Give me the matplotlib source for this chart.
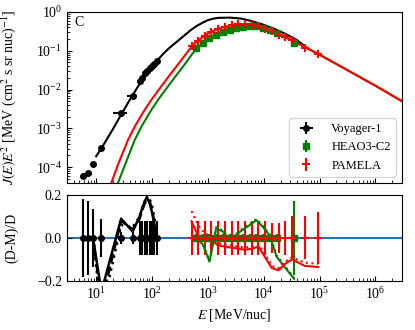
import numpy as np
import matplotlib
matplotlib.use("Agg")
import matplotlib.pyplot as plt

plt.rcParams['font.family'] = ['Liberation Serif', 'DejaVu Serif']
plt.rcParams['mathtext.fontset'] = 'stix'
plt.rcParams['font.size'] = 10

# --- data ---
# Voyager-1
vgr_E = [5.8, 7.1, 8.8, 12.4, 28, 45, 60, 67, 74, 81, 91, 100, 109, 123]
vgr_J = [5.9e-5, 6.9e-5, 1.17e-4, 3.1e-4, 2.5e-3, 7.0e-3, 0.0164, 0.020,
         0.026, 0.030, 0.037, 0.040, 0.046, 0.053]
vgr_Eerr = [0, 0, 0, 0, 8, 9, 0, 0, 0, 0, 0, 0, 0, 0]
vgr_rel = [0.18, 0.17, 0.135, 0.09, 0.03, 0.03, 0.08, 0.08, 0.08, 0.08,
           0.08, 0.08, 0.08, 0.08]

# HEAO3-C2
heao_E = [620, 810, 1070, 1410, 1860, 2450, 3240, 4270, 5620, 7410, 9770,
          12900, 17000, 35000]
heao_J = [0.120, 0.158, 0.209, 0.257, 0.302, 0.347, 0.389, 0.422, 0.437,
          0.432, 0.398, 0.339, 0.282, 0.158]
heao_rel = [0.02, 0.02, 0.02, 0.02, 0.02, 0.02, 0.02, 0.02, 0.02, 0.02,
            0.02, 0.02, 0.02, 0.17]

# PAMELA
pam_E = [510, 670, 880, 1160, 1530, 2020, 2670, 3520, 4630, 6110, 8050,
         10600, 14000, 18500, 24300, 32100, 55000, 94400]
pam_J = [0.135, 0.182, 0.240, 0.302, 0.363, 0.417, 0.457, 0.479, 0.490,
         0.468, 0.427, 0.372, 0.316, 0.263, 0.224, 0.186, 0.120, 0.083]
pam_rel = [0.08, 0.08, 0.08, 0.08, 0.08, 0.08, 0.08, 0.08, 0.08, 0.08,
           0.08, 0.08, 0.07, 0.07, 0.08, 0.10, 0.10, 0.12]

# model curves, log10(E) and log10(J E^2)
blk_logE = [1.0, 1.1, 1.2, 1.3, 1.45, 1.6, 1.8, 2.0, 2.1, 2.2, 2.3, 2.4, 2.5,
            2.6, 2.7, 2.8, 2.9, 3.0, 3.1, 3.2, 3.4, 3.6, 3.8, 4.0, 4.2, 4.4,
            4.6, 4.8]
blk_logJ = [-3.72, -3.50, -3.26, -3.02, -2.64, -2.27, -1.80, -1.40, -1.24,
            -1.08, -0.94, -0.82, -0.70, -0.58, -0.46, -0.36, -0.28, -0.21,
            -0.17, -0.15, -0.145, -0.17, -0.24, -0.33, -0.44, -0.57, -0.73,
            -0.95]
red_logE = [1.2, 1.27, 1.4, 1.57, 1.7, 1.87, 2.0, 2.17, 2.3, 2.466, 2.6, 2.706,
            2.8, 3.0, 3.2, 3.4, 3.6, 3.8, 4.0, 4.2, 4.4, 4.6, 4.8, 5.0, 5.5,
            6.0, 6.5]
red_logJ = [-4.7, -4.41, -3.9, -3.30, -2.93, -2.52, -2.24, -1.91, -1.66,
            -1.35, -1.10, -0.90, -0.76, -0.55, -0.42, -0.35, -0.32, -0.34,
            -0.42, -0.53, -0.66, -0.80, -0.95, -1.10, -1.50, -1.90, -2.32]
grn_logE = [1.32, 1.39, 1.5, 1.69, 1.82, 1.99, 2.12, 2.29, 2.42, 2.586, 2.72,
            2.85, 3.0, 3.2, 3.4, 3.6, 3.8, 4.0, 4.2, 4.4, 4.6, 4.8, 5.0, 5.5,
            6.0, 6.5]
grn_logJ = [-4.7, -4.41, -4.0, -3.30, -2.93, -2.52, -2.24, -1.91, -1.66,
            -1.35, -1.08, -0.88, -0.70, -0.53, -0.42, -0.36, -0.35, -0.42,
            -0.53, -0.66, -0.80, -0.95, -1.10, -1.50, -1.90, -2.32]

# residuals (D-M)/D, Voyager from 8.8 MeV on
vgr_res_E = vgr_E[2:]
vgr_res_solid = [0.0, -0.25, 0.09, 0.03, 0.10, 0.14, 0.17, 0.19, 0.16, 0.12,
                 0.07, 0.0]
vgr_res_dash = [0.0, -0.30, 0.08, 0.04, 0.09, 0.13, 0.16, 0.18, 0.17, 0.13,
                0.08, 0.01]
vgr_res_dot = [0.0, -0.35, 0.06, 0.05, 0.10, 0.14, 0.17, 0.20, 0.18, 0.15,
               0.10, 0.02]
heao_res_solid = [0.0, -0.03, -0.11, 0.045, 0.03, -0.008, 0.015, 0.04, 0.06,
                  0.083, 0.05, 0.01, -0.087, -0.19]
heao_res_dot = [0.005, -0.025, -0.105, 0.05, 0.035, -0.003, 0.02, 0.045,
                0.065, 0.088, 0.055, 0.015, -0.08, -0.185]
pam_res_solid = [0.078, 0.01, -0.005, -0.01, -0.035, -0.04, -0.045, -0.05,
                 -0.055, -0.05, -0.04, -0.09, -0.14, -0.15, -0.12, -0.10,
                 -0.13, -0.135]
pam_res_dot = [0.125, 0.06, 0.02, 0.01, -0.025, -0.03, -0.035, -0.04, -0.045,
               -0.04, -0.03, -0.075, -0.13, -0.14, -0.11, -0.09, -0.115,
               -0.12]

fig = plt.figure(figsize=(4.15, 3.3), dpi=100)
ax1 = fig.add_axes([0.1614, 0.4455, 0.8073, 0.5181])
ax2 = fig.add_axes([0.1614, 0.1485, 0.8073, 0.2606], sharex=ax1)

# top panel
ax1.plot(10 ** np.array(blk_logE), 10 ** np.array(blk_logJ), color='black', lw=1.5)
ax1.plot(10 ** np.array(grn_logE), 10 ** np.array(grn_logJ), color='green', lw=1.5)
ax1.plot(10 ** np.array(red_logE), 10 ** np.array(red_logJ), color='red', lw=1.5)

ax1.errorbar(vgr_E, vgr_J, xerr=vgr_Eerr, yerr=np.array(vgr_rel) * np.array(vgr_J),
             fmt='o', color='black', ms=4, elinewidth=1.5, label='Voyager-1')
ax1.errorbar(heao_E, heao_J, yerr=np.array(heao_rel) * np.array(heao_J),
             fmt='s', color='green', ms=5, elinewidth=1.5, label='HEAO3-C2')
ax1.errorbar(pam_E, pam_J, yerr=np.array(pam_rel) * np.array(pam_J),
             fmt='+', color='red', ms=6, mew=1.5, elinewidth=1.5, label='PAMELA')

ax1.set_xscale('log')
ax1.set_yscale('log')
ax1.set_xlim(3, 3e6)
ax1.set_ylim(3.9e-5, 1)
ax1.set_ylabel(r'$J(E)E^2$ [MeV (cm$^2$ s sr nuc)$^{-1}$]')
ax1.yaxis.set_label_coords(-0.145, 0.5)
ax1.text(0.022, 0.94, 'C', transform=ax1.transAxes, ha='left', va='center')
ax1.legend(loc='lower right', fontsize=9, handletextpad=1.0)
ax1.tick_params(labelbottom=False)

# bottom panel
ax2.axhline(0, color='C0', lw=1.5, zorder=1)
ax2.errorbar(vgr_E, np.zeros(len(vgr_E)), yerr=vgr_rel, fmt='o', color='black',
             ms=4, elinewidth=1.5)
ax2.errorbar(heao_E, np.zeros(len(heao_E)), yerr=heao_rel, fmt='s', color='green',
             ms=5, elinewidth=1.5)
ax2.errorbar(pam_E, np.zeros(len(pam_E)), yerr=pam_rel, fmt='+', color='red',
             ms=6, mew=1.5, elinewidth=1.5)

ax2.plot(vgr_res_E, vgr_res_solid, color='black', lw=1.8, ls='-')
ax2.plot(vgr_res_E, vgr_res_dash, color='black', lw=1.8, ls='--')
ax2.plot(vgr_res_E, vgr_res_dot, color='black', lw=1.8, ls=':')
ax2.plot(heao_E, heao_res_solid, color='green', lw=1.5, ls='-')
ax2.plot(heao_E, heao_res_dot, color='green', lw=1.5, ls=':')
ax2.plot(pam_E, pam_res_solid, color='red', lw=1.5, ls='-')
ax2.plot(pam_E, pam_res_dot, color='red', lw=1.5, ls=':')

ax2.set_ylim(-0.2, 0.2)
ax2.set_yticks([-0.2, 0.0, 0.2])
ax2.set_ylabel('(D-M)/D')
ax2.yaxis.set_label_coords(-0.145, 0.5)
ax2.set_xlabel(r'$E$ [MeV/nuc]')

for ax in (ax1, ax2):
    ax.tick_params(which='both', direction='in')

fig.savefig('out.png', dpi=100)
